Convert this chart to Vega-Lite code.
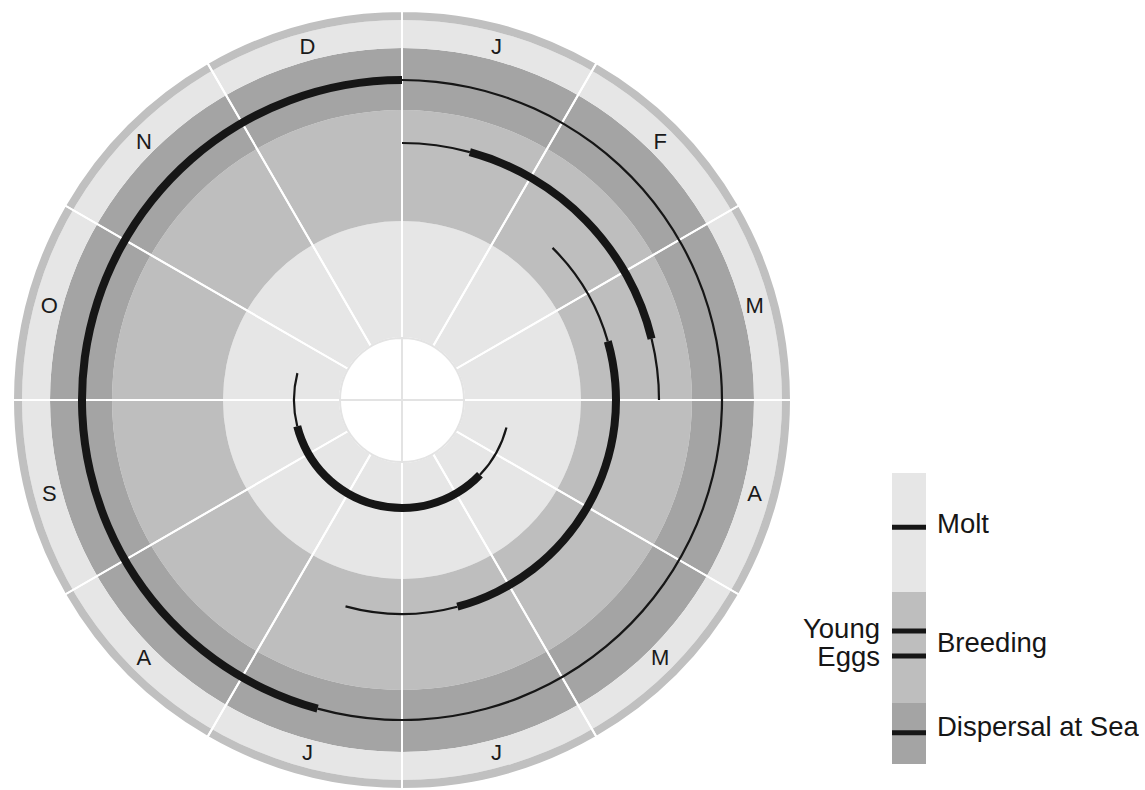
{
  "$schema": "https://vega.github.io/schema/vega-lite/v6.json",
  "padding": 0,
  "background": "white",
  "config": {"view": {"stroke": null}, "font": "Liberation Sans"},
  "datasets": {
    "bands": [
      {"band": "Molt", "inner": 1, "outer": 3},
      {"band": "Breeding", "inner": 3, "outer": 6},
      {"band": "Dispersal at Sea", "inner": 6, "outer": 8},
      {"band": "Months", "inner": 8, "outer": 10},
      {"band": "Rim", "inner": 10, "outer": 11}
    ],
    "months": [
      {"month": "J", "start": 0, "end": 1, "mid": 0.5},
      {"month": "F", "start": 1, "end": 2, "mid": 1.5},
      {"month": "M", "start": 2, "end": 3, "mid": 2.5},
      {"month": "A", "start": 3, "end": 4, "mid": 3.5},
      {"month": "M", "start": 4, "end": 5, "mid": 4.5},
      {"month": "J", "start": 5, "end": 6, "mid": 5.5},
      {"month": "J", "start": 6, "end": 7, "mid": 6.5},
      {"month": "A", "start": 7, "end": 8, "mid": 7.5},
      {"month": "S", "start": 8, "end": 9, "mid": 8.5},
      {"month": "O", "start": 9, "end": 10, "mid": 9.5},
      {"month": "N", "start": 10, "end": 11, "mid": 10.5},
      {"month": "D", "start": 11, "end": 12, "mid": 11.5}
    ],
    "quarters": [
      {"q0": 0, "q1": 3}, {"q0": 3, "q1": 6}, {"q0": 6, "q1": 9}, {"q0": 9, "q1": 12}
    ],
    "phases": [
      {"series": "Dispersal at Sea", "kind": "range", "start": 0, "end": 6.51, "lane": 7},
      {"series": "Dispersal at Sea", "kind": "peak", "start": 6.51, "end": 12, "lane": 7},
      {"series": "Eggs", "kind": "range", "start": 0, "end": 0.51, "lane": 5},
      {"series": "Eggs", "kind": "peak", "start": 0.51, "end": 2.54, "lane": 5},
      {"series": "Eggs", "kind": "range", "start": 2.54, "end": 3.0, "lane": 5},
      {"series": "Young", "kind": "range", "start": 1.49, "end": 2.47, "lane": 4},
      {"series": "Young", "kind": "peak", "start": 2.47, "end": 5.5, "lane": 4},
      {"series": "Young", "kind": "range", "start": 5.5, "end": 6.51, "lane": 4},
      {"series": "Molt", "kind": "range", "start": 3.49, "end": 4.46, "lane": 2},
      {"series": "Molt", "kind": "peak", "start": 4.46, "end": 8.53, "lane": 2},
      {"series": "Molt", "kind": "range", "start": 8.53, "end": 9.48, "lane": 2}
    ],
    "legendBar": [
      {"phase": "Molt", "top": 0, "bottom": 40.9},
      {"phase": "Breeding", "top": 40.9, "bottom": 79.0},
      {"phase": "Dispersal at Sea", "top": 79.0, "bottom": 100}
    ],
    "legendTicks": [
      {"label": "Molt", "pos": 18.6},
      {"label": "Young", "pos": 54.3},
      {"label": "Eggs", "pos": 62.9},
      {"label": "Dispersal at Sea", "pos": 89.3}
    ],
    "legendRight": [
      {"text": "Molt", "pos": 17.7},
      {"text": "Breeding", "pos": 58.7},
      {"text": "Dispersal at Sea", "pos": 87.8}
    ],
    "legendLeft": [
      {"text": "Young", "pos": 54.0},
      {"text": "Eggs", "pos": 63.6}
    ]
  },
  "hconcat": [
    {
      "width": 804,
      "height": 800,
      "layer": [
        {
          "data": {"name": "bands"},
          "mark": {"type": "arc"},
          "encoding": {
            "theta": {"datum": 0, "type": "quantitative", "scale": {"type": "linear", "domain": [0, 12], "range": [0, 6.283185307179586], "zero": false, "nice": false}},
            "theta2": {"datum": 12},
            "radius": {"field": "outer", "type": "quantitative", "scale": {"type": "linear", "domain": [0, 1, 2, 3, 4, 5, 6, 7, 8, 9, 10, 11], "range": [0, 62, 108, 179, 214, 257, 290, 320, 352, 365, 380, 389], "zero": false, "nice": false}},
            "radius2": {"field": "inner"},
            "color": {"field": "band", "type": "nominal", "scale": {"domain": ["Molt", "Breeding", "Dispersal at Sea", "Months", "Rim"], "range": ["#e6e6e6", "#bebebe", "#a4a4a4", "#e6e6e6", "#c0c0c0"]}, "legend": null}
          }
        },
        {
          "data": {"name": "months"},
          "mark": {"type": "arc", "fill": "white", "fillOpacity": 0, "stroke": "white", "strokeWidth": 2},
          "encoding": {
            "theta": {"field": "start", "type": "quantitative", "stack": null},
            "theta2": {"field": "end"},
            "radius": {"datum": 11, "type": "quantitative"},
            "radius2": {"datum": 1}
          }
        },
        {
          "data": {"name": "quarters"},
          "mark": {"type": "arc", "fill": "white", "stroke": "#e3e3e3", "strokeWidth": 2},
          "encoding": {
            "theta": {"field": "q0", "type": "quantitative", "stack": null},
            "theta2": {"field": "q1"},
            "radius": {"datum": 1, "type": "quantitative"},
            "radius2": {"datum": 0}
          }
        },
        {
          "data": {"name": "phases"},
          "transform": [{"filter": "datum.kind === 'range'"}],
          "mark": {"type": "arc", "color": "#161616", "radiusOffset": 1.1, "radius2Offset": -1.1},
          "encoding": {
            "theta": {"field": "start", "type": "quantitative", "stack": null},
            "theta2": {"field": "end"},
            "radius": {"field": "lane", "type": "quantitative"},
            "radius2": {"field": "lane"}
          }
        },
        {
          "data": {"name": "phases"},
          "transform": [{"filter": "datum.kind === 'peak'"}],
          "mark": {"type": "arc", "color": "#161616", "radiusOffset": 4, "radius2Offset": -4},
          "encoding": {
            "theta": {"field": "start", "type": "quantitative", "stack": null},
            "theta2": {"field": "end"},
            "radius": {"field": "lane", "type": "quantitative"},
            "radius2": {"field": "lane"}
          }
        },
        {
          "data": {"name": "months"},
          "mark": {"type": "text", "fontSize": 22, "color": "#1a1a1a", "align": "center", "baseline": "middle"},
          "encoding": {
            "theta": {"field": "mid", "type": "quantitative", "stack": null},
            "radius": {"datum": 9, "type": "quantitative"},
            "text": {"field": "month"}
          }
        }
      ]
    },
    {
      "width": 34,
      "height": 800,
      "layer": [
        {
          "data": {"name": "legendBar"},
          "mark": {"type": "rect"},
          "encoding": {
            "y": {"field": "top", "type": "quantitative", "scale": {"domain": [0, 100], "range": [473, 764], "zero": false, "nice": false}, "axis": null},
            "y2": {"field": "bottom"},
            "color": {"field": "phase", "type": "nominal", "scale": {"domain": ["Molt", "Breeding", "Dispersal at Sea", "Months", "Rim"], "range": ["#e6e6e6", "#bebebe", "#a4a4a4", "#e6e6e6", "#c0c0c0"]}, "legend": null}
          }
        },
        {
          "data": {"name": "legendTicks"},
          "mark": {"type": "rule", "color": "#161616", "strokeWidth": 5},
          "encoding": {
            "y": {"field": "pos", "type": "quantitative", "axis": null}
          }
        },
        {
          "data": {"name": "legendRight"},
          "mark": {"type": "text", "fontSize": 27.5, "color": "#161616", "align": "left", "baseline": "middle", "dx": 28},
          "encoding": {
            "y": {"field": "pos", "type": "quantitative", "axis": null},
            "text": {"field": "text"}
          }
        },
        {
          "data": {"name": "legendLeft"},
          "mark": {"type": "text", "fontSize": 27.5, "color": "#161616", "align": "right", "baseline": "middle", "dx": -29},
          "encoding": {
            "y": {"field": "pos", "type": "quantitative", "axis": null},
            "text": {"field": "text"}
          }
        }
      ]
    }
  ],
  "spacing": 88,
  "bounds": "flush"
}
